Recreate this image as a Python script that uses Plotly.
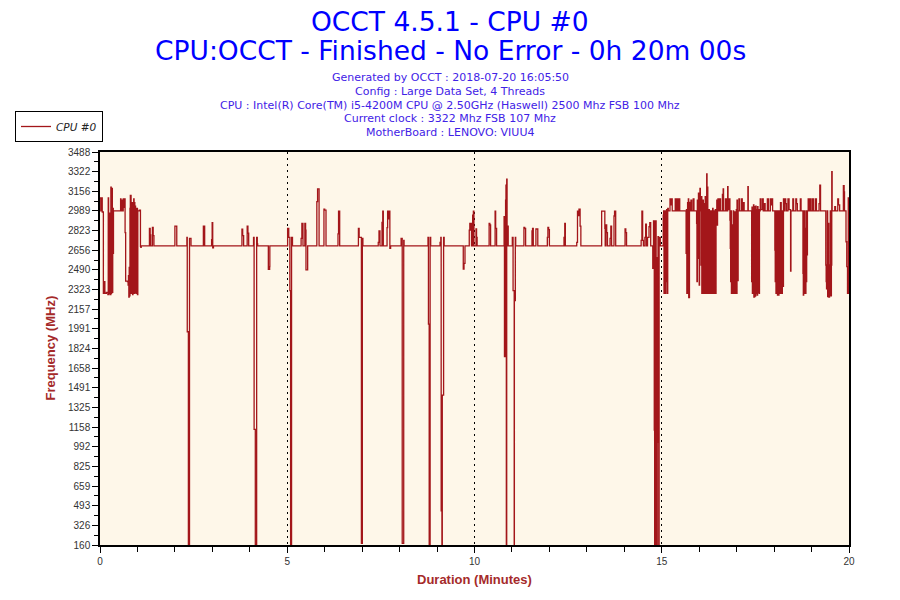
import plotly.graph_objects as go

# ---------------- data ----------------
SERIES_NAME = "CPU #0"

TIME_MIN = [
    0.00, 0.02, 0.04, 0.06, 0.09, 0.11, 0.13, 0.17, 0.21, 0.22, 0.23, 0.24, 0.26, 0.28, 0.29, 0.30,
    0.31, 0.33, 0.34, 0.355, 0.36, 0.55, 0.56, 0.58, 0.60, 0.62, 0.64, 0.65, 0.67, 0.685, 0.73, 0.75,
    0.76, 0.77, 0.78, 0.79, 0.80, 0.81, 0.83, 0.84, 0.85, 0.86, 0.87, 0.88, 0.89, 0.90, 0.91, 0.92,
    0.93, 0.94, 0.95, 0.96, 0.97, 0.98, 1.00, 1.01, 1.05, 1.08, 1.09, 1.10,
    1.32, 1.34, 1.355, 1.40, 1.42, 1.44, 2.00, 2.05, 2.32, 2.33, 2.36, 2.39, 2.43,
    2.76, 2.795, 2.98, 2.995, 3.01, 3.03, 3.79, 3.81, 3.835, 3.93, 3.95, 3.97,
    4.10, 4.115, 4.147, 4.183, 4.20, 4.21, 4.495, 4.53, 4.535,
    5.01, 5.04, 5.07, 5.09, 5.115, 5.14, 5.37, 5.39, 5.42, 5.47, 5.49, 5.50, 5.545,
    5.79, 5.81, 5.85, 5.98, 6.00, 6.035, 6.355, 6.37, 6.40, 6.90, 6.92, 6.98, 7.005, 7.02,
    7.43, 7.45, 7.476, 7.53, 7.55, 7.565, 7.665, 7.68, 7.70, 7.72, 7.74, 7.76,
    8.04, 8.07, 8.11, 8.12, 8.758, 8.77, 8.79, 8.815, 8.83,
    9.08, 9.10, 9.11, 9.13, 9.14, 9.175, 9.19, 9.70, 9.72, 9.746,
    9.86, 9.875, 9.895, 9.905, 9.92, 9.95, 9.97, 9.985, 10.04, 10.055, 10.07,
    10.39, 10.41, 10.43, 10.55, 10.565, 10.59,
    10.79, 10.80, 10.83, 10.84, 10.85, 10.86, 10.87, 10.885, 10.89, 10.90,
    11.01, 11.03, 11.06, 11.065, 11.09, 11.10, 11.32, 11.34, 11.365, 11.535, 11.55, 11.57,
    11.64, 11.69, 11.945, 11.96, 11.98, 12.00, 12.39, 12.41, 12.425,
    12.73, 12.75, 12.77, 12.79, 12.82, 12.84, 13.395, 13.48, 13.49, 13.51, 13.53, 13.55,
    13.62, 13.64, 13.66, 13.725, 13.74, 13.77, 14.02, 14.04, 14.06,
    14.45, 14.47, 14.49, 14.51, 14.55, 14.57, 14.59, 14.62, 14.66, 14.68, 14.705,
    14.76, 14.78, 14.80, 14.81, 14.83, 14.85, 14.86, 14.88, 14.90, 14.91, 14.92, 14.93, 14.96, 15.00,
    15.04, 15.05, 15.06, 15.07, 15.08, 15.09, 15.10, 15.11, 15.12, 15.13, 15.15, 15.16, 15.175,
    15.22, 15.24, 15.26, 15.28, 15.36, 15.38, 15.41, 15.43, 15.46, 15.48,
    15.65, 15.66, 15.67, 15.68, 15.69, 15.70, 15.71, 15.72, 15.74, 15.75, 15.78, 15.80, 15.84, 15.86,
    15.93, 15.94, 15.95, 15.97, 15.98, 16.00, 16.01, 16.02, 16.03, 16.05, 16.06, 16.07, 16.08, 16.09,
    16.10, 16.11, 16.12, 16.13, 16.14, 16.15, 16.16, 16.17, 16.18, 16.19, 16.20, 16.21, 16.22, 16.23,
    16.24, 16.25, 16.26, 16.27, 16.28, 16.29, 16.30, 16.31, 16.32, 16.33, 16.34, 16.35, 16.36, 16.37,
    16.38, 16.39, 16.40, 16.41, 16.43, 16.44, 16.45, 16.47, 16.48, 16.49, 16.50, 16.52, 16.55, 16.57,
    16.62, 16.64, 16.65, 16.70, 16.73, 16.76, 16.77, 16.80, 16.82, 16.83, 16.84, 16.85, 16.86, 16.87,
    16.88, 16.89, 16.90, 16.91, 16.92, 16.93, 16.94, 16.95, 16.96, 16.97, 16.99, 17.00, 17.01, 17.02,
    17.04, 17.06, 17.08, 17.13, 17.15, 17.18, 17.20, 17.30, 17.31,
    17.40, 17.41, 17.42, 17.43, 17.44, 17.45, 17.46, 17.47, 17.48, 17.49, 17.50, 17.51, 17.52, 17.53,
    17.55, 17.56, 17.57, 17.58, 17.60, 17.61, 17.63, 17.65, 17.69, 17.71, 17.74, 17.76, 17.82, 17.85,
    17.90, 17.92, 17.94, 17.96,
    18.02, 18.03, 18.04, 18.05, 18.06, 18.07, 18.08, 18.09, 18.11, 18.12, 18.13, 18.15, 18.17, 18.19,
    18.20, 18.21, 18.22, 18.23, 18.25, 18.26, 18.29, 18.31, 18.33, 18.37, 18.40, 18.44, 18.45, 18.50,
    18.52, 18.58, 18.60, 18.62, 18.70, 18.72,
    18.77, 18.78, 18.79, 18.80, 18.81, 18.82, 18.83, 18.85, 18.86, 18.87, 18.88, 18.89, 18.91, 18.93,
    18.95, 18.98, 19.02, 19.05, 19.10, 19.13, 19.20, 19.22, 19.24,
    19.38, 19.39, 19.40, 19.42, 19.43, 19.45, 19.46, 19.48, 19.49, 19.50, 19.51, 19.53, 19.54, 19.55,
    19.62, 19.64, 19.70, 19.72, 19.75, 19.85, 19.87, 19.88, 19.92, 19.94, 19.96, 19.98, 19.99, 20.00,
]

FREQ_MHZ = [
    3100, 2990, 3100, 2980, 2290, 2390, 2290, 2300, 2280, 3100, 2280, 2970, 2290, 2280, 3190, 2290,
    3180, 2300, 3010, 2630, 2990, 3090, 2990, 3080, 2990, 3090, 3020, 3090, 2805, 2395, 2390, 2360,
    2440, 2260, 2510, 2270, 3010, 3120, 2290, 3040, 2290, 3060, 2280, 3010, 2490, 3090, 2290, 3060,
    2300, 3030, 2830, 2290, 2980, 3010, 2280, 2990, 2995, 2690, 2680, 2693,
    2840, 2785, 2693, 2850, 2780, 2693, 2860, 2693, 2765, 1966, 160, 2757, 2693,
    2860, 2693, 2745, 2890, 2677, 2693, 2835, 2780, 2693, 2860, 2800, 2693,
    2765, 1139, 160, 2765, 2710, 2693, 2494, 2517, 2693,
    2840, 2765, 2314, 160, 2765, 2693, 2757, 2884, 2693, 2884, 2827, 2489, 2693,
    3067, 3175, 2693, 3005, 2995, 2693, 2794, 2988, 2693, 2840, 2765, 174, 2757, 2693,
    2723, 2819, 2693, 2892, 2988, 2693, 2847, 2988, 2921, 2988, 2672, 2693,
    2757, 174, 2740, 2693, 2765, 2031, 160, 2765, 2693,
    2723, 2765, 450, 160, 1430, 2765, 2693, 2497, 2545, 2693,
    2827, 2884, 2827, 2884, 2693, 2954, 2988, 2693, 2836, 2765, 2693,
    2884, 2870, 2693, 2988, 2841, 2693,
    2940, 1755, 3081, 3208, 160, 3259, 2827, 2693, 2861, 2693,
    2765, 2314, 160, 2229, 2765, 2693, 2850, 2840, 2693, 2819, 2840, 2693,
    2836, 2693, 2765, 2850, 2830, 2693, 2765, 2884, 2693,
    2723, 2988, 2950, 3005, 2861, 2693, 2988, 2841, 2693, 2870, 2805, 2693,
    2757, 2861, 2693, 2946, 2988, 2693, 2836, 2805, 2693,
    2740, 2988, 2740, 2693, 2765, 2878, 2693, 2765, 2855, 2889, 2693,
    2503, 2904, 1134, 160, 2904, 1134, 160, 2593, 2771, 1029, 160, 2765, 2693, 2693,
    2954, 2990, 2290, 2990, 2446, 2990, 2290, 2980, 2390, 3000, 2290, 3010, 2990,
    3090, 3040, 3090, 2990, 3090, 2990, 3090, 2990, 3090, 2990,
    2630, 3000, 2290, 2489, 3060, 2290, 3090, 2254, 3062, 2990, 3080, 2990, 3090, 2990,
    2884, 2390, 3081, 2587, 3140, 2360, 3110, 3180, 2990, 2531, 3110, 2290, 3000, 2290,
    3080, 2340, 3050, 2290, 3000, 2500, 3110, 2290, 3000, 2290, 3302, 2362, 3190, 2290,
    2990, 2290, 3000, 2400, 2990, 2290, 2990, 2290, 2940, 2290, 2990, 2300, 3010, 2290,
    2950, 2380, 2990, 2290, 3000, 2290, 2990, 3080, 2870, 3000, 3090, 2990, 3090, 2990,
    3130, 3175, 2990, 3090, 2990, 3194, 3000, 3090, 2912, 2672, 2390, 2990, 2290, 2870,
    2290, 2560, 2290, 2990, 2290, 2700, 2290, 2980, 2290, 2489, 3000, 2290, 3081, 2400,
    2990, 3090, 2990, 3090, 2990, 3060, 2990, 3194, 2990,
    2390, 3020, 2290, 2470, 2290, 3040, 2260, 3000, 2263, 3025, 2270, 3030, 2290, 3000,
    2277, 3025, 2300, 3000, 2290, 2990, 3090, 3000, 3090, 2990, 3050, 2990, 3090, 2990,
    3090, 3040, 3090, 2990,
    2658, 2390, 2990, 2290, 2500, 2990, 2300, 2277, 2990, 2277, 2990, 2290, 3060, 2290,
    2686, 2290, 2990, 2350, 3090, 2990, 3090, 3050, 2990, 3090, 3000, 2480, 2990, 3090,
    2990, 3090, 3050, 2990, 3090, 2990,
    2460, 2277, 2290, 2990, 2290, 2841, 2290, 2990, 2390, 2990, 2616, 2990, 3090, 2990,
    3090, 2990, 3090, 2990, 3090, 2990, 3050, 3208, 2990,
    2531, 2390, 2330, 2990, 2263, 2884, 2260, 2531, 2290, 2990, 2270, 2531, 3321, 2990,
    3025, 2990, 3090, 3040, 2990, 3203, 3150, 2990, 2728, 2517, 2291, 3100, 2290, 2290,
]

Y_TICKS = [160, 326, 493, 659, 825, 992, 1158, 1325, 1491, 1658, 1824, 1991, 2157,
           2323, 2490, 2656, 2823, 2989, 3156, 3322, 3488]
X_TICKS = [0, 5, 10, 15, 20]

TITLE_1 = "OCCT 4.5.1 - CPU #0"
TITLE_2 = "CPU:OCCT - Finished - No Error - 0h 20m 00s"
INFO_LINES = [
    "Generated by OCCT : 2018-07-20 16:05:50",
    "Config : Large Data Set, 4 Threads",
    "CPU : Intel(R) Core(TM) i5-4200M CPU @ 2.50GHz (Haswell) 2500 Mhz FSB 100 Mhz",
    "Current clock : 3322 Mhz FSB 107 Mhz",
    "MotherBoard : LENOVO: VIUU4",
]
X_TITLE = "Duration (Minutes)"
Y_TITLE = "Frequency (MHz)"

# ---------------- figure ----------------
LINE_COLOR = "#A3161A"
LABEL_COLOR = "#A52A2A"
FONT = "DejaVu Sans, Verdana, sans-serif"
SANS = "Liberation Sans, Arial, sans-serif"

fig = go.Figure()
fig.add_trace(go.Scatter(
    x=TIME_MIN, y=FREQ_MHZ, mode="lines", name=SERIES_NAME,
    line=dict(color=LINE_COLOR, width=1.3, shape="hv"),
    showlegend=True,
))

W, H = 900, 600
L, R, T, B = 100, 51, 152, 55
pw, ph = W - L - R, H - T - B


def px_x(px):
    return (px - L) / pw


def px_y(py):
    return (H - B - py) / ph


def note(text, x, y, size, color, family=FONT, angle=0):
    return dict(text=text, x=px_x(x), y=px_y(y), xref="paper", yref="paper",
                showarrow=False, xanchor="center", yanchor="middle", textangle=angle,
                font=dict(family=family, size=size, color=color))


annotations = [
    note(TITLE_1, 450, 21, 26.5, "#0000FF"),
    note(TITLE_2, 450, 50, 26.5, "#0000FF"),
]
for i, line in enumerate(INFO_LINES):
    annotations.append(note(line, 450, 77 + 14 * i, 11, "#3F22E6"))
annotations.append(note("<b>" + X_TITLE + "</b>", 474.5, 579, 13, LABEL_COLOR, SANS))
annotations.append(note("<b>" + Y_TITLE + "</b>", 50, 348.5, 13, LABEL_COLOR, SANS, -90))

fig.update_layout(
    width=W, height=H,
    margin=dict(l=L, r=R, t=T, b=B, autoexpand=False),
    paper_bgcolor="white",
    plot_bgcolor="#FEF7E9",
    font=dict(family=FONT, size=10, color="#333333"),
    annotations=annotations,
    showlegend=True,
    legend=dict(
        xref="container", yref="container",
        x=15 / W, y=1 - 111 / H, xanchor="left", yanchor="top",
        bordercolor="black", borderwidth=1, bgcolor="white",
        font=dict(family=FONT, size=10.5, color="#222222", style="italic"),
        itemwidth=30, tracegroupgap=0,
    ),
    xaxis=dict(
        range=[0, 20], tickvals=X_TICKS, ticktext=[str(v) for v in X_TICKS],
        showline=True, linecolor="black", linewidth=1.5, mirror=True,
        ticks="outside", ticklen=6, tickcolor="black", tickwidth=1,
        minor=dict(dtick=1, tick0=0, ticks="outside", ticklen=5, tickcolor="black"),
        showgrid=True, gridcolor="black", griddash="1.5px,4.5px", gridwidth=1,
        zeroline=False,
        tickfont=dict(family=SANS, size=10, color="#333333"),
    ),
    yaxis=dict(
        range=[160, 3488], tickvals=Y_TICKS, ticktext=[str(v) for v in Y_TICKS],
        showline=True, linecolor="black", linewidth=1.5, mirror=True,
        ticks="outside", ticklen=6, tickcolor="black", tickwidth=1,
        minor=dict(tickmode="array",
                   tickvals=[(a + b) / 2 for a, b in zip(Y_TICKS[:-1], Y_TICKS[1:])],
                   ticks="outside", ticklen=4, tickcolor="black"),
        showgrid=False, zeroline=False,
        tickfont=dict(family=SANS, size=10, color="#333333"),
    ),
)

fig.write_html("out.html", config={"displayModeBar": False},
               post_script="document.body.style.margin='0px';")
